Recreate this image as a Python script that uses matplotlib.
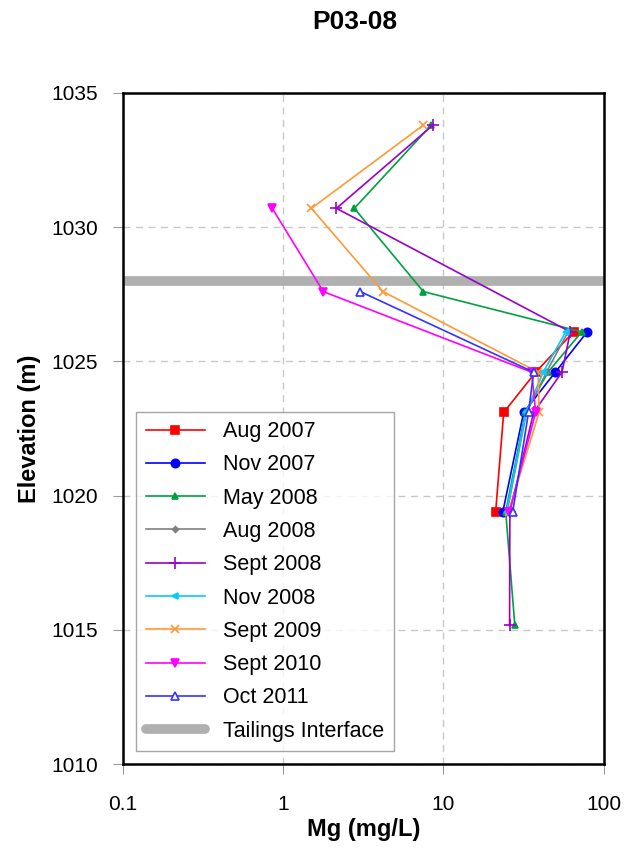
import matplotlib
import matplotlib.pyplot as plt
from matplotlib.ticker import FixedLocator, NullLocator

matplotlib.use('Agg')

# elevations (m) and Mg (mg/L) for each sampling round
aug_2007_elev = [1026.1, 1024.6, 1023.1, 1019.4]
aug_2007_mg = [65, 37.7, 23.8, 21.2]

nov_2007_elev = [1026.1, 1024.6, 1023.1, 1019.4]
nov_2007_mg = [79, 50, 31.7, 23.5]

may_2008_elev = [1033.8, 1030.7, 1027.6, 1026.1, 1024.6, 1023.1, 1019.4, 1015.2]
may_2008_mg = [8.4, 2.78, 7.5, 73, 45, 32.5, 24.5, 27.9]

aug_2008_elev = [1026.1, 1024.6, 1023.1, 1019.4]
aug_2008_mg = [60, 44, 33, 25]

sept_2008_elev = [1033.8, 1030.7, 1026.1, 1024.6, 1023.1, 1019.4, 1015.2]
sept_2008_mg = [8.6, 2.15, 62, 55, 36.6, 26, 25.9]

nov_2008_elev = [1026.1, 1024.6, 1023.1, 1019.4]
nov_2008_mg = [58, 42, 32.8, 24.8]

sept_2009_elev = [1033.8, 1030.7, 1027.6, 1024.6, 1023.1, 1019.4]
sept_2009_mg = [7.5, 1.5, 4.2, 39, 39.6, 25.5]

sept_2010_elev = [1030.7, 1027.6, 1024.6, 1023.1, 1019.4]
sept_2010_mg = [0.855, 1.78, 35.6, 37.7, 25.8]

oct_2011_elev = [1027.6, 1024.6, 1023.1, 1019.4]
oct_2011_mg = [3.03, 36.6, 34, 27.1]

tailings_elev = 1028.0
x_ticks = [0.1, 1, 10, 100]
x_tick_labels = ["0.1", "1", "10", "100"]
y_ticks = [1010, 1015, 1020, 1025, 1030, 1035]

series = [
    ("Aug 2007", aug_2007_mg, aug_2007_elev, "#FF0000", "s", 6, "#FF0000"),
    ("Nov 2007", nov_2007_mg, nov_2007_elev, "#0000FF", "o", 6, "#0000FF"),
    ("May 2008", may_2008_mg, may_2008_elev, "#00A040", "^", 5, "#00A040"),
    ("Aug 2008", aug_2008_mg, aug_2008_elev, "#808080", "D", 3, "#808080"),
    ("Sept 2008", sept_2008_mg, sept_2008_elev, "#9900CC", "+", 8, "#9900CC"),
    ("Nov 2008", nov_2008_mg, nov_2008_elev, "#00CCFF", "<", 5, "#00CCFF"),
    ("Sept 2009", sept_2009_mg, sept_2009_elev, "#FF9933", "x", 6, "#FF9933"),
    ("Sept 2010", sept_2010_mg, sept_2010_elev, "#FF00FF", "v", 6, "#FF00FF"),
    ("Oct 2011", oct_2011_mg, oct_2011_elev, "#3333FF", "^", 6, "white"),
]

plt.rcParams['font.family'] = ['Liberation Sans', 'DejaVu Sans']

fig = plt.figure(figsize=(6.34, 8.52), dpi=100)
ax = fig.add_axes([0.194, 0.103, 0.758, 0.788])

for label, mg, elev, color, marker, ms, face in series:
    ax.plot(mg, elev, color=color, marker=marker, markersize=ms,
            markerfacecolor=face, markeredgecolor=color, linewidth=1.2,
            markeredgewidth=1.2, label=label)

ax.axhline(tailings_elev, color="#B0B0B0", linewidth=7, solid_capstyle='round',
           label="Tailings Interface", zorder=1)

ax.set_xscale('log')
ax.set_xlim(0.1, 100)
ax.set_ylim(1010, 1035)
ax.xaxis.set_major_locator(FixedLocator(x_ticks))
ax.xaxis.set_minor_locator(NullLocator())
ax.set_xticklabels(x_tick_labels)
ax.set_yticks(y_ticks)
ax.tick_params(axis='both', which='major', direction='out', length=7.2,
               color='#999999', labelsize=15)
ax.tick_params(axis='x', pad=15)
ax.tick_params(axis='y', pad=11)
ax.grid(True, which='major', color='#C8C8C8', linestyle=(0, (5, 4)), linewidth=1)
ax.set_axisbelow(True)
for s in ax.spines.values():
    s.set_linewidth(1.8)
    s.set_color('black')

ax.set_xlabel("Mg (mg/L)", fontsize=17, fontweight='bold', labelpad=3)
ax.set_ylabel("Elevation (m)", fontsize=17, fontweight='bold', labelpad=7)
fig.text(0.559, 0.974, "P03-08", fontsize=19, fontweight='bold',
         ha='center', va='center')

leg = ax.legend(loc='lower left', bbox_to_anchor=(0.0, 0.0), fontsize=15.5,
                frameon=True, fancybox=False, edgecolor='#909090',
                handlelength=2.75, labelspacing=0.57, borderpad=0.45,
                handletextpad=0.85, borderaxespad=0.6)
leg.get_frame().set_linewidth(1.0)

fig.savefig("out.png", dpi=100)
